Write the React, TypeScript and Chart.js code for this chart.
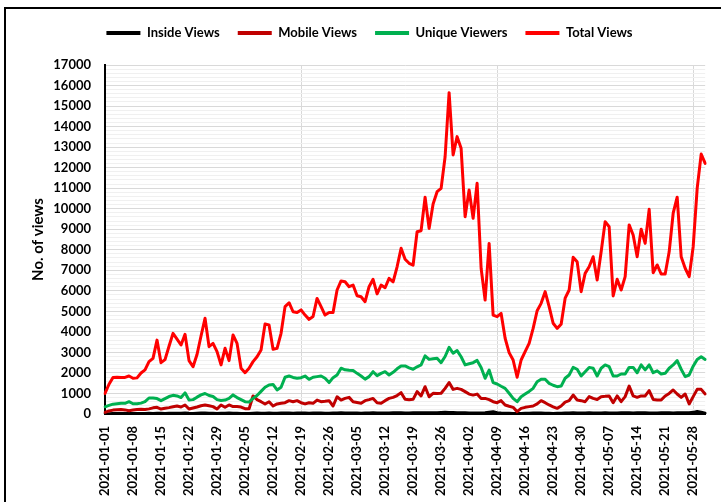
import React, { useEffect, useRef } from 'react';
import { Chart, registerables } from 'chart.js';

Chart.register(...registerables);

// ---------- data ----------
const START_DAY = '2021-01-01';
const DAY_COUNT = 151;

const insideViews = [
  10, 15, 20, 20, 25, 20, 25, 30, 25, 30,
  30, 35, 30, 40, 35, 30, 35, 40, 35, 40,
  45, 35, 30, 40, 45, 50, 40, 35, 30, 40,
  35, 45, 40, 35, 30, 25, 30, 40, 45, 40,
  40, 45, 35, 40, 45, 50, 45, 40, 45, 50,
  45, 40, 45, 50, 45, 40, 35, 45, 50, 55,
  50, 45, 50, 45, 40, 45, 50, 55, 45, 50,
  45, 50, 55, 60, 55, 50, 45, 55, 60, 55,
  60, 55, 65, 60, 70, 80, 75, 70, 65, 60,
  55, 50, 45, 50, 45, 60, 90, 110, 60, 45,
  40, 35, 30, 25, 30, 35, 40, 45, 50, 45,
  40, 35, 30, 35, 40, 45, 50, 55, 50, 45,
  50, 55, 50, 45, 50, 55, 50, 45, 50, 55,
  60, 55, 50, 55, 60, 55, 50, 45, 50, 55,
  60, 55, 50, 55, 60, 55, 60, 80, 120, 90,
  40,
];

const mobileViews = [
  80, 150, 190, 210, 220, 200, 160, 190, 220, 230,
  220, 250, 300, 325, 240, 280, 310, 350, 390, 340,
  440, 240, 290, 340, 400, 440, 400, 360, 240, 440,
  325, 440, 360, 360, 340, 260, 250, 880, 700, 600,
  490, 600, 390, 490, 520, 550, 650, 600, 650, 550,
  490, 550, 520, 680, 600, 620, 650, 390, 840, 680,
  760, 810, 600, 560, 520, 650, 700, 760, 550, 520,
  650, 760, 810, 900, 1040, 715, 700, 715, 1090, 880,
  1330, 840, 1010, 1000, 1010, 1250, 1530, 1200, 1250, 1200,
  1090, 970, 920, 970, 760, 760, 700, 600, 550, 650,
  440, 380, 325, 115, 275, 325, 360, 390, 490, 650,
  550, 440, 350, 275, 390, 580, 650, 925, 680, 650,
  600, 845, 760, 710, 845, 860, 880, 550, 880, 600,
  845, 1360, 880, 810, 880, 880, 1140, 710, 680, 680,
  880, 1000, 1170, 975, 810, 975, 490, 845, 1200, 1200,
  975,
];

const uniqueViewers = [
  350, 420, 480, 500, 520, 520, 600, 500, 500, 530,
  600, 780, 780, 750, 650, 750, 850, 910, 880, 800,
  1030, 680, 700, 820, 930, 1000, 900, 850, 700, 660,
  680, 760, 930, 800, 700, 600, 580, 760, 900, 1100,
  1300, 1410, 1440, 1170, 1300, 1790, 1850, 1780, 1740, 1770,
  1850, 1690, 1790, 1820, 1850, 1740, 1530, 1770, 1900, 2230,
  2150, 2130, 2120, 1980, 1850, 1700, 1820, 2060, 1870, 1980,
  2060, 1900, 2030, 2200, 2340, 2340, 2250, 2180, 2300, 2390,
  2830, 2660, 2690, 2720, 2500, 2800, 3250, 2960, 3090, 2790,
  2390, 2450, 2500, 2610, 2270, 1740, 2140, 1530, 1460, 1350,
  1250, 1010, 760, 600, 840, 970, 1100, 1250, 1570, 1690,
  1690, 1490, 1400, 1330, 1360, 1740, 1900, 2270, 2180, 1850,
  2060, 2270, 2230, 1850, 2230, 2390, 2310, 1850, 1850, 1950,
  1950, 2270, 2270, 2010, 2390, 2150, 2390, 2010, 2100, 1950,
  1980, 2230, 2390, 2600, 2180, 1820, 1900, 2330, 2660, 2790,
  2660,
];

const totalViews = [
  1000, 1450, 1780, 1790, 1780, 1780, 1850, 1740, 1760, 2000,
  2150, 2550, 2710, 3600, 2500, 2650, 3300, 3930, 3650, 3360,
  3880, 2600, 2300, 2900, 3800, 4660, 3280, 3440, 3040, 2390,
  3200, 2600, 3850, 3440, 2230, 2010, 2230, 2550, 2790, 3120,
  4380, 4340, 3150, 3200, 3930, 5230, 5420, 4980, 4940, 5070,
  4820, 4610, 4750, 5630, 5230, 4820, 4940, 4940, 6040, 6480,
  6440, 6200, 6280, 5760, 5710, 5470, 6200, 6560, 5850, 6280,
  6150, 6610, 6440, 7170, 8070, 7540, 7340, 7250, 8880, 8930,
  10560, 9040, 10230, 10830, 10990, 12530, 15650, 12620, 13510, 12940,
  9610, 10910, 9530, 11240, 7100, 5550, 8310, 4820, 4740, 4900,
  3690, 2990, 2630, 1790, 2630, 3040, 3440, 4170, 5030, 5390,
  5960, 5230, 4420, 4170, 4370, 5640, 6040, 7630, 7420, 5960,
  6850, 7170, 7660, 6530, 7900, 9370, 9120, 5750, 6560, 6040,
  6690, 9210, 8720, 7660, 9000, 8310, 9970, 6880, 7260, 6820,
  6820, 7900, 9780, 10560, 7660, 7100, 6690, 8150, 10990, 12660,
  12210,
];

const seriesNames = ['Inside Views', 'Mobile Views', 'Unique Viewers', 'Total Views'];
const seriesColors = ['#000000', '#C00000', '#00B050', '#FF0000'];
const yAxisTitle = 'No. of views';
const tickEveryDays = 7;
const yMax = 17000;
const yMajorStep = 1000;
const yMinorStep = 200;

function buildDates(start: string, count: number): string[] {
  const base = new Date(start + 'T00:00:00Z').getTime();
  const out: string[] = [];
  for (let i = 0; i < count; i++) {
    out.push(new Date(base + i * 86400000).toISOString().slice(0, 10));
  }
  return out;
}

const dates = buildDates(START_DAY, DAY_COUNT);

const FONT = "Lato, 'Liberation Sans', Arial, sans-serif";

const legendSpacer = {
  id: 'legendSpacer',
  beforeLayout(chart: any) {
    const lg = chart.legend;
    if (lg && !lg.__patched) {
      const orig = lg.fit;
      lg.fit = function () {
        orig.call(this);
        this.height += 15.5;
      };
      lg.__patched = true;
    }
  },
};

export default function App() {
  const ref = useRef<HTMLCanvasElement | null>(null);

  useEffect(() => {
    if (!ref.current) return;
    const all = [insideViews, mobileViews, uniqueViewers, totalViews];
    const chart = new Chart(ref.current, {
      type: 'line',
      data: {
        labels: dates,
        datasets: all.map((d, i) => ({
          label: seriesNames[i],
          data: d,
          borderColor: seriesColors[i],
          backgroundColor: seriesColors[i],
          borderWidth: 3,
          pointRadius: 0,
          pointHoverRadius: 0,
          tension: 0,
          fill: false,
          borderJoinStyle: 'round' as const,
          borderCapStyle: 'round' as const,
          order: 3 - i,
        })),
      },
      options: {
        animation: false,
        responsive: true,
        maintainAspectRatio: false,
        layout: { padding: { top: 8.5, left: 29, right: 11, bottom: 0 } },
        plugins: {
          tooltip: { enabled: false },
          legend: {
            display: true,
            position: 'top',
            labels: {
              color: '#000',
              font: { family: FONT, size: 13, weight: 'bold' },
              boxWidth: 34,
              boxHeight: 4,
              padding: 18,
              generateLabels: (c: any) =>
                c.data.datasets.map((ds: any, i: number) => ({
                  text: ds.label,
                  fillStyle: ds.borderColor,
                  strokeStyle: ds.borderColor,
                  lineWidth: 0,
                  hidden: !c.isDatasetVisible(i),
                  datasetIndex: i,
                  fontColor: '#000',
                })),
            },
          },
        },
        scales: {
          x: {
            type: 'category',
            grid: {
              drawTicks: false,
              color: (ctx: any) => (ctx.index % tickEveryDays === 0 ? '#d9d9d9' : 'rgba(0,0,0,0)'),
              lineWidth: 1,
            },
            border: { color: '#000', width: 2 },
            ticks: {
              autoSkip: false,
              minRotation: 90,
              maxRotation: 90,
              padding: 12,
              color: '#000',
              font: { family: FONT, size: 13, weight: 'bold' },
              callback: (_v: any, idx: number) => (idx % tickEveryDays === 0 ? dates[idx] : null),
            },
            afterFit: (s: any) => {
              s.height = 88;
            },
          },
          y: {
            type: 'linear',
            min: 0,
            max: yMax,
            grid: {
              drawTicks: false,
              color: (ctx: any) =>
                ctx.tick && ctx.tick.value % yMajorStep === 0 ? '#d9d9d9' : '#f0f0f0',
              lineWidth: 1,
            },
            border: { color: '#000', width: 2 },
            ticks: {
              stepSize: yMinorStep,
              autoSkip: false,
              padding: 14,
              color: '#000',
              font: { family: FONT, size: 13, weight: 'bold' },
              callback: (v: any) => (Number(v) % yMajorStep === 0 ? String(v) : ''),
            },
            title: {
              display: true,
              text: yAxisTitle,
              color: '#000',
              font: { family: FONT, size: 15, weight: 'bold' },
              padding: { top: 0, bottom: 0 },
            },
            afterFit: (s: any) => {
              s.width = 76;
            },
          },
        },
      },
      plugins: [legendSpacer],
    } as any);
    return () => chart.destroy();
  }, []);

  return (
    <div
      style={{
        position: 'fixed',
        left: 0,
        top: 0,
        width: 721,
        height: 502,
        background: '#fff',
        overflow: 'hidden',
      }}
    >
      <canvas ref={ref} style={{ position: 'absolute', left: 0, top: 0 }} />
      <div
        style={{
          position: 'absolute',
          left: 4,
          top: 7,
          width: 740,
          height: 520,
          borderTop: '2px solid #000',
          borderLeft: '2px solid #000',
          pointerEvents: 'none',
        }}
      />
    </div>
  );
}
